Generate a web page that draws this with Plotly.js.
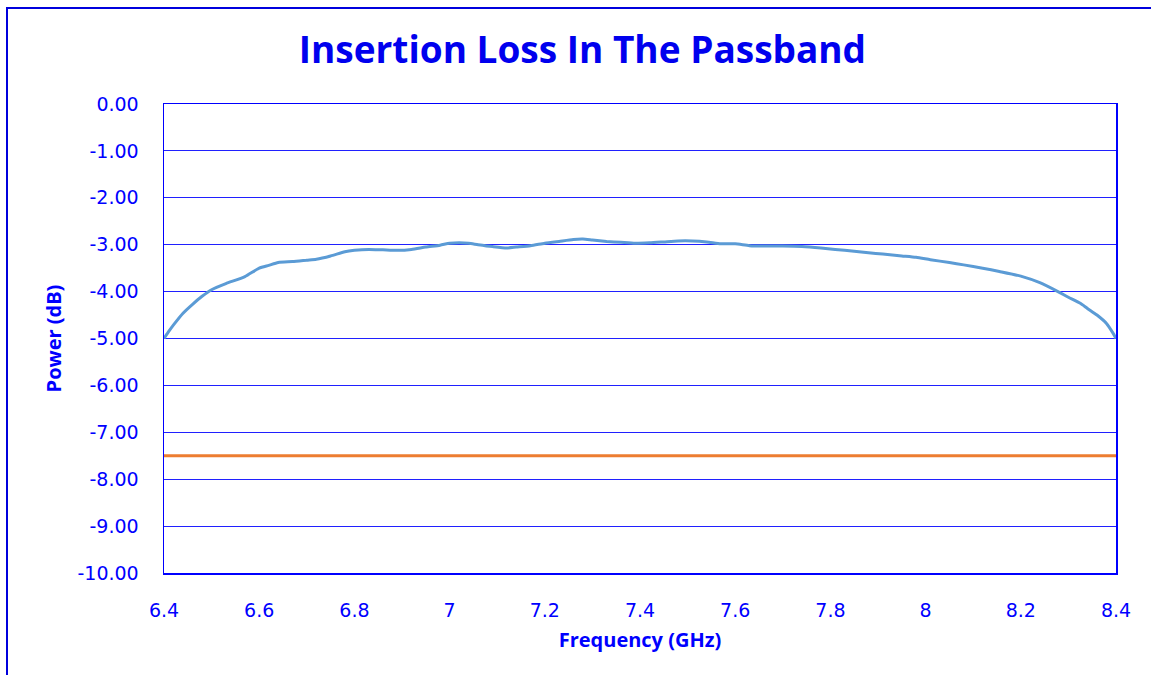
<!DOCTYPE html>
<html>
<head>
<meta charset="utf-8">
<script src="https://cdn.plot.ly/plotly-3.0.1.min.js"></script>
<style>
  html, body { margin: 0; padding: 0; background: #ffffff; overflow: hidden; }
  #chart { position: absolute; left: 0; top: 0; width: 1151px; height: 675px; }
  #frame { position: absolute; left: 6px; top: 7px; width: 1200px; height: 700px;
           border-left: 2px solid #0000DD; border-top: 2px solid #0000DD; pointer-events: none; }
</style>
</head>
<body>
<div id="chart"></div>
<div id="frame"></div>
<script>
const freqGHz = [
  6.40, 6.41, 6.42, 6.44, 6.46, 6.48, 6.50, 6.53, 6.57, 6.60,
  6.62, 6.64, 6.67, 6.70, 6.72, 6.75, 6.78, 6.80,
  6.83, 6.86, 6.89, 6.92, 6.95, 6.98, 7.00, 7.02, 7.04, 7.06,
  7.09, 7.12, 7.14, 7.17, 7.20, 7.23, 7.26, 7.28, 7.30, 7.33,
  7.36, 7.39, 7.42, 7.45, 7.48, 7.51, 7.54, 7.57, 7.60, 7.63,
  7.66, 7.70, 7.74, 7.78, 7.81, 7.85, 7.88, 7.91, 7.95, 7.98,
  8.01, 8.05, 8.08, 8.12, 8.155, 8.20, 8.24, 8.28, 8.30, 8.325,
  8.34, 8.36, 8.38, 8.394, 8.40
];
const lossDb = [
  -5.00, -4.85, -4.71, -4.46, -4.27, -4.10, -3.96, -3.83, -3.68, -3.50,
  -3.44, -3.38, -3.36, -3.33, -3.31, -3.24, -3.15, -3.12,
  -3.10, -3.11, -3.12, -3.10, -3.05, -3.01, -2.97, -2.96, -2.97, -3.00,
  -3.04, -3.07, -3.05, -3.02, -2.97, -2.93, -2.89, -2.88, -2.90, -2.93,
  -2.95, -2.97, -2.96, -2.94, -2.92, -2.92, -2.94, -2.98, -2.98, -3.02,
  -3.03, -3.03, -3.04, -3.07, -3.10, -3.14, -3.17, -3.20, -3.24, -3.27,
  -3.32, -3.38, -3.43, -3.50, -3.57, -3.67, -3.81, -4.01, -4.12, -4.25,
  -4.36, -4.50, -4.68, -4.89, -5.00
];
// Specification limit line
const limitFreq = [6.4, 8.4];
const limitDb = [-7.5, -7.5];

const xTickVals = [6.4, 6.6, 6.8, 7.0, 7.2, 7.4, 7.6, 7.8, 8.0, 8.2, 8.4];
const xTickText = ['6.4', '6.6', '6.8', '7', '7.2', '7.4', '7.6', '7.8', '8', '8.2', '8.4'];
const yTickVals = [0, -1, -2, -3, -4, -5, -6, -7, -8, -9, -10];
const yTickText = ['0.00', '-1.00', '-2.00', '-3.00', '-4.00', '-5.00', '-6.00', '-7.00', '-8.00', '-9.00', '-10.00'];

const blue = '#0000FF';
const data = [
  { x: limitFreq, y: limitDb, type: 'scatter', mode: 'lines',
    line: { color: '#ED7D31', width: 3 }, name: 'Limit', hoverinfo: 'skip' },
  { x: freqGHz, y: lossDb, type: 'scatter', mode: 'lines',
    line: { color: '#5B9BD5', width: 3, shape: 'spline', smoothing: 0.6 }, name: 'Insertion Loss' }
];

const layout = {
  width: 1151, height: 675,
  paper_bgcolor: '#ffffff', plot_bgcolor: '#ffffff',
  margin: { l: 164, r: 35, t: 104, b: 102 },
  showlegend: false,
  title: {
    text: '<b>Insertion Loss In The Passband</b>',
    font: { family: 'Open Sans', size: 37, color: '#0000EE' },
    x: 0.506, xanchor: 'center', xref: 'container',
    y: 0.926, yanchor: 'middle', yref: 'container'
  },
  xaxis: {
    range: [6.4, 8.4], tickvals: xTickVals, ticktext: xTickText,
    showgrid: false, zeroline: false,
    showline: true, mirror: true, linecolor: blue, linewidth: 1.5,
    ticks: 'outside', ticklen: 20, tickcolor: 'rgba(0,0,0,0)',
    tickfont: { family: 'DejaVu Sans', size: 19, color: blue },
    title: { text: '<b>Frequency (GHz)</b>', standoff: 12,
             font: { family: 'Open Sans', size: 20, color: blue } }
  },
  yaxis: {
    range: [-10, 0], tickvals: yTickVals, ticktext: yTickText,
    showgrid: true, gridcolor: '#2020FF', gridwidth: 1, zeroline: false,
    showline: true, mirror: true, linecolor: blue, linewidth: 1.5,
    ticks: 'outside', ticklen: 20, tickcolor: 'rgba(0,0,0,0)',
    tickfont: { family: 'DejaVu Sans', size: 19, color: blue },
    title: { text: '<b>Power (dB)</b>', standoff: 10,
             font: { family: 'Open Sans', size: 20, color: blue } }
  }
};

Plotly.newPlot('chart', data, layout, { displayModeBar: false, staticPlot: true });
</script>
</body>
</html>
